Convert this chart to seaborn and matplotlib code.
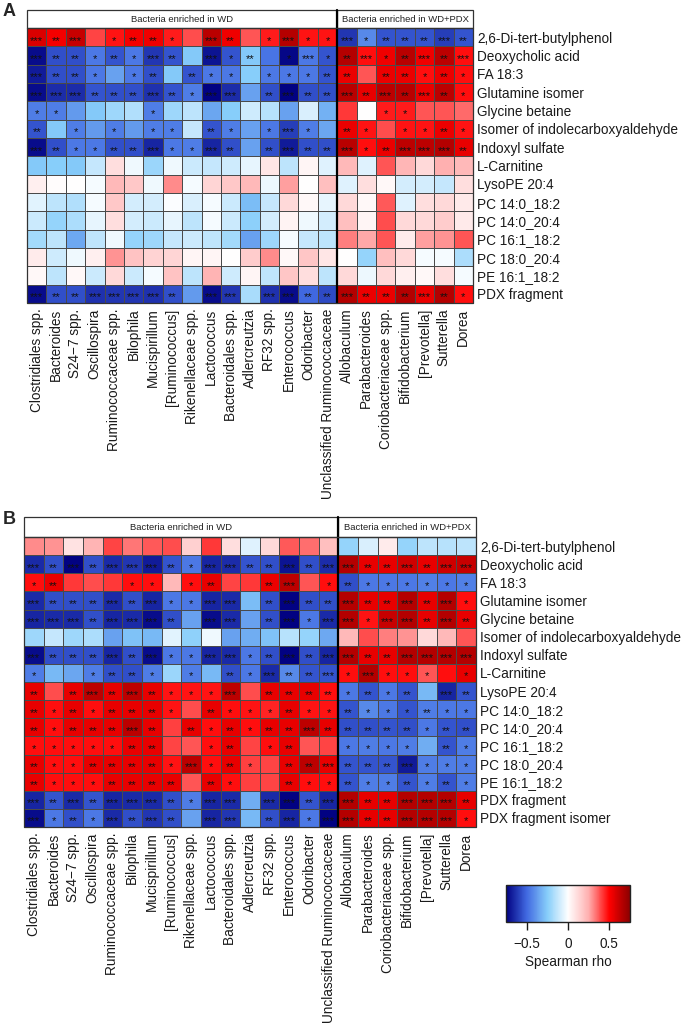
import numpy as np
import pandas as pd
import matplotlib
matplotlib.use("Agg")
import matplotlib.pyplot as plt
import seaborn as sns
from matplotlib.colors import LinearSegmentedColormap
from matplotlib.patches import Rectangle

# ---------------- data ----------------
bacteria = ["Clostridiales spp.", "Bacteroides", "S24\u22127 spp.", "Oscillospira",
            "Ruminococcaceae spp.", "Bilophila", "Mucispirillum", "[Ruminococcus]",
            "Rikenellaceae spp.", "Lactococcus", "Bacteroidales spp.", "Adlercreutzia",
            "RF32 spp.", "Enterococcus", "Odoribacter", "Unclassified Ruminococcaceae",
            "Allobaculum", "Parabacteroides", "Coriobacteriaceae spp.", "Bifidobacterium",
            "[Prevotella]", "Sutterella", "Dorea"]
n_wd = 16
group_labels = ["Bacteria enriched in WD", "Bacteria enriched in WD+PDX"]

metabolites_a = ["2,6-Di-tert-butylphenol", "Deoxycholic acid", "FA 18:3", "Glutamine isomer",
                 "Glycine betaine", "Isomer of indolecarboxyaldehyde", "Indoxyl sulfate",
                 "L-Carnitine", "LysoPE 20:4", "PC 14:0_18:2", "PC 14:0_20:4", "PC 16:1_18:2",
                 "PC 18:0_20:4", "PE 16:1_18:2", "PDX fragment"]
metabolites_b = metabolites_a + ["PDX fragment isomer"]

rho_a = [
    [0.58, 0.52, 0.62, 0.40, 0.47, 0.52, 0.53, 0.46, 0.39, 0.65, 0.53, 0.38, 0.46, 0.66, 0.47, 0.47, -0.62, -0.42, -0.55, -0.55, -0.55, -0.60, -0.55],
    [-0.72, -0.56, -0.56, -0.46, -0.55, -0.46, -0.62, -0.55, -0.26, -0.70, -0.55, -0.26, -0.47, -0.73, -0.46, -0.55, 0.66, 0.48, 0.53, 0.65, 0.53, 0.64, 0.48],
    [-0.68, -0.56, -0.56, -0.46, -0.36, -0.46, -0.56, -0.26, -0.55, -0.46, -0.46, -0.25, -0.46, -0.46, -0.46, -0.55, 0.54, 0.38, 0.54, 0.54, 0.48, 0.54, 0.48],
    [-0.72, -0.64, -0.64, -0.55, -0.56, -0.56, -0.63, -0.55, -0.45, -0.74, -0.64, -0.36, -0.56, -0.74, -0.56, -0.56, 0.65, 0.55, 0.64, 0.65, 0.54, 0.64, 0.48],
    [-0.45, -0.45, -0.38, -0.26, -0.20, -0.16, -0.45, -0.20, -0.14, -0.35, -0.25, -0.10, -0.15, -0.36, -0.08, -0.32, 0.42, 0.00, 0.46, 0.46, 0.38, 0.38, 0.35],
    [-0.55, -0.26, -0.45, -0.38, -0.45, -0.38, -0.45, -0.45, -0.12, -0.55, -0.45, -0.36, -0.46, -0.60, -0.45, -0.35, 0.54, 0.47, 0.39, 0.47, 0.47, 0.54, 0.47],
    [-0.72, -0.56, -0.46, -0.46, -0.56, -0.56, -0.66, -0.46, -0.45, -0.66, -0.56, -0.36, -0.56, -0.68, -0.56, -0.56, 0.65, 0.48, 0.54, 0.64, 0.64, 0.66, 0.55],
    [-0.26, -0.25, -0.26, -0.12, 0.10, -0.03, -0.21, -0.03, -0.11, -0.12, -0.10, -0.05, 0.08, -0.14, 0.03, -0.07, 0.22, -0.07, 0.38, 0.23, 0.12, 0.25, 0.22],
    [0.05, 0.01, 0.00, -0.02, 0.22, 0.17, -0.03, 0.30, -0.02, 0.13, 0.17, 0.22, -0.04, 0.27, 0.00, 0.20, -0.07, 0.10, 0.02, -0.09, -0.09, -0.12, 0.10],
    [-0.06, -0.14, -0.16, -0.02, 0.17, -0.09, -0.09, -0.01, -0.08, -0.02, -0.11, -0.29, -0.12, 0.12, 0.02, -0.05, 0.12, 0.02, 0.37, -0.07, 0.10, 0.12, 0.07],
    [-0.11, -0.22, -0.17, -0.05, 0.10, -0.09, -0.11, -0.05, -0.14, -0.02, -0.11, -0.24, -0.09, 0.04, -0.03, -0.09, 0.20, 0.03, 0.39, 0.12, 0.12, 0.16, 0.07],
    [-0.19, -0.14, -0.34, -0.13, -0.03, -0.22, -0.20, -0.12, -0.11, -0.13, -0.19, -0.36, -0.20, -0.02, -0.12, -0.14, 0.32, 0.26, 0.38, 0.06, 0.27, 0.29, 0.38],
    [0.06, -0.10, -0.03, 0.05, 0.29, 0.19, 0.14, 0.13, 0.03, 0.03, 0.00, 0.16, 0.30, 0.02, 0.18, 0.08, 0.00, -0.22, 0.20, 0.12, -0.02, -0.02, -0.17],
    [0.02, -0.14, 0.02, -0.11, 0.12, -0.11, -0.02, 0.19, -0.14, 0.24, -0.10, 0.03, -0.13, 0.18, 0.10, -0.14, 0.12, -0.04, 0.12, 0.05, 0.02, 0.10, -0.02],
    [-0.72, -0.56, -0.56, -0.63, -0.62, -0.62, -0.63, -0.56, -0.38, -0.72, -0.62, -0.18, -0.63, -0.72, -0.50, -0.57, 0.66, 0.54, 0.54, 0.66, 0.54, 0.66, 0.48],
]
stars_a = [
    "32301221032013113122232",
    "32212132031201312312323",
    "32210120211011122022121",
    "33322232133023223232321",
    "11000010000000000011000",
    "20101011021013102101121",
    "32112231132023223123332",
    "00000000000000000000000",
    "00000000000000000000000",
    "00000000000000000000000",
    "00000000000000000000000",
    "00000000000000000000000",
    "00000000000000000000000",
    "00000000000000000000000",
    "32233332033033223222321",
]

rho_b = [
    [0.30, 0.29, 0.09, 0.24, 0.40, 0.33, 0.37, 0.39, 0.15, 0.42, 0.10, -0.07, 0.12, 0.37, 0.34, 0.20, -0.22, -0.08, 0.06, -0.22, -0.14, -0.15, -0.14],
    [-0.65, -0.56, -0.74, -0.56, -0.65, -0.62, -0.68, -0.55, -0.46, -0.66, -0.64, -0.55, -0.56, -0.70, -0.56, -0.64, 0.66, 0.55, 0.55, 0.60, 0.55, 0.60, 0.62],
    [0.48, 0.54, 0.42, 0.39, 0.42, 0.48, 0.48, 0.22, 0.48, 0.55, 0.40, 0.42, 0.54, 0.64, 0.38, 0.48, -0.56, -0.46, -0.46, -0.46, -0.44, -0.46, -0.44],
    [-0.65, -0.56, -0.56, -0.56, -0.65, -0.56, -0.66, -0.46, -0.46, -0.66, -0.65, -0.29, -0.56, -0.74, -0.56, -0.56, 0.66, 0.55, 0.55, 0.66, 0.55, 0.66, 0.48],
    [-0.66, -0.65, -0.65, -0.56, -0.66, -0.65, -0.72, -0.56, -0.36, -0.72, -0.65, -0.36, -0.56, -0.74, -0.46, -0.65, 0.66, 0.47, 0.62, 0.66, 0.55, 0.66, 0.55],
    [-0.20, -0.12, -0.20, -0.17, -0.36, -0.28, -0.30, -0.06, -0.23, -0.03, -0.36, -0.33, -0.28, -0.15, -0.22, -0.34, 0.22, 0.39, 0.32, 0.29, 0.12, 0.22, 0.38],
    [-0.72, -0.56, -0.56, -0.56, -0.66, -0.56, -0.72, -0.46, -0.46, -0.66, -0.65, -0.46, -0.56, -0.74, -0.56, -0.66, 0.66, 0.55, 0.55, 0.66, 0.66, 0.66, 0.66],
    [-0.45, -0.30, -0.35, -0.45, -0.56, -0.56, -0.45, -0.21, -0.45, -0.30, -0.56, -0.46, -0.65, -0.42, -0.55, -0.55, 0.48, 0.66, 0.48, 0.48, 0.38, 0.48, 0.55],
    [0.55, 0.39, 0.55, 0.64, 0.55, 0.64, 0.55, 0.47, 0.47, 0.47, 0.64, 0.39, 0.55, 0.55, 0.55, 0.48, -0.46, -0.55, -0.46, -0.55, -0.30, -0.66, -0.55],
    [0.55, 0.48, 0.55, 0.48, 0.55, 0.55, 0.55, 0.47, 0.39, 0.55, 0.48, 0.47, 0.45, 0.55, 0.47, 0.47, -0.55, -0.42, -0.46, -0.55, -0.45, -0.46, -0.46],
    [0.55, 0.48, 0.55, 0.55, 0.55, 0.64, 0.55, 0.41, 0.55, 0.48, 0.55, 0.48, 0.55, 0.55, 0.64, 0.55, -0.56, -0.56, -0.55, -0.56, -0.46, -0.55, -0.56],
    [0.48, 0.48, 0.48, 0.48, 0.48, 0.55, 0.55, 0.40, 0.38, 0.48, 0.55, 0.40, 0.48, 0.55, 0.38, 0.40, -0.46, -0.45, -0.46, -0.45, -0.33, -0.55, -0.45],
    [0.55, 0.48, 0.48, 0.55, 0.55, 0.55, 0.55, 0.47, 0.64, 0.48, 0.55, 0.41, 0.40, 0.55, 0.64, 0.55, -0.55, -0.55, -0.55, -0.68, -0.45, -0.45, -0.45],
    [0.55, 0.48, 0.48, 0.48, 0.55, 0.55, 0.55, 0.55, 0.38, 0.55, 0.48, 0.41, 0.40, 0.55, 0.48, 0.48, -0.55, -0.45, -0.45, -0.55, -0.45, -0.55, -0.45],
    [-0.66, -0.55, -0.65, -0.55, -0.66, -0.65, -0.65, -0.56, -0.45, -0.66, -0.65, -0.33, -0.65, -0.74, -0.55, -0.66, 0.66, 0.55, 0.55, 0.66, 0.66, 0.66, 0.55],
    [-0.72, -0.46, -0.56, -0.46, -0.65, -0.56, -0.62, -0.56, -0.36, -0.66, -0.62, -0.30, -0.56, -0.66, -0.46, -0.74, 0.66, 0.55, 0.55, 0.66, 0.66, 0.66, 0.48],
]
stars_b = [
    "00000000000000000000000",
    "32323332133223233223233",
    "12000110120023012111111",
    "32223231133023223223231",
    "33323332033023133133232",
    "00000000000000000000000",
    "32223231133123233223333",
    "10012210102132231311101",
    "20232321113022221212032",
    "21212221021112112111211",
    "21222320212122322222122",
    "11111220012012001111021",
    "21122221312102232223111",
    "21112222021002112112121",
    "32323332133033233223332",
    "31213232033023133223331",
]

cbar_ticks = [-0.5, 0, 0.5]
cbar_ticklabels = ["\u22120.5", "0", "0.5"]
vmin, vmax = -0.75, 0.75

# ---------------- style ----------------
sns.set_style("white")
plt.rcParams["font.family"] = ["Liberation Sans", "DejaVu Sans"]
cmap = LinearSegmentedColormap.from_list(
    "rho", [(0, "#000080"), (1/6, "#4169e1"), (1/3, "#87cefa"), (0.5, "#ffffff"),
            (2/3, "#ffb0b0"), (5/6, "#ff0000"), (1, "#8b0000")])

W, H = 685, 1024
fig = plt.figure(figsize=(W/100, H/100), dpi=100)

def frac(x0, y0, x1, y1):
    return [x0 / W, 1 - y1 / H, (x1 - x0) / W, (y1 - y0) / H]

def panel(rect, rows, vals, stars, hdr, letter, letter_xy):
    ax = fig.add_axes(frac(*rect))
    df = pd.DataFrame(vals, index=rows, columns=bacteria)
    ann = np.array([["*" * int(c) for c in s] for s in stars])
    sns.heatmap(df, ax=ax, cmap=cmap, vmin=vmin, vmax=vmax, cbar=False,
                annot=ann, fmt="", annot_kws={"fontsize": 8, "color": "#111111"},
                linewidths=0.6, linecolor="#4a4a4a", square=False)
    for t in ax.texts:
        x, y = t.get_position()
        t.set_position((x, y + 0.2))
    n = len(rows)
    ax.yaxis.tick_right()
    ax.set_yticks(np.arange(n) + 0.5)
    ax.set_yticklabels(rows, rotation=0, fontsize=9.8, color="#1a1a1a")
    ax.set_xticks(np.arange(len(bacteria)) + 0.5)
    ax.set_xticklabels(bacteria, rotation=90, fontsize=9.8, color="#1a1a1a")
    ax.tick_params(axis="both", length=0)
    ax.tick_params(axis="y", pad=3)
    ax.tick_params(axis="x", pad=4)
    ax.set_xlabel("")
    ax.set_ylabel("")
    # header boxes
    ncol = len(bacteria)
    ax.add_patch(Rectangle((0, -hdr), n_wd, hdr, facecolor="white", edgecolor="#333333",
                           lw=0.9, clip_on=False))
    ax.add_patch(Rectangle((n_wd, -hdr), ncol - n_wd, hdr, facecolor="white",
                           edgecolor="#333333", lw=0.9, clip_on=False))
    ax.text(n_wd / 2, -hdr / 2 + 0.05, group_labels[0], ha="center", va="center",
            fontsize=6.8, color="#222222")
    ax.text(n_wd + (ncol - n_wd) / 2, -hdr / 2 + 0.05, group_labels[1], ha="center",
            va="center", fontsize=6.8, color="#222222")
    ax.plot([n_wd, n_wd], [-hdr, n], color="black", lw=1.6, clip_on=False)
    ax.plot([0, ncol, ncol, 0, 0], [0, 0, n, n, 0], color="#333333", lw=0.9, clip_on=False)
    fig.text(letter_xy[0] / W, 1 - letter_xy[1] / H, letter, fontsize=13,
             fontweight="bold", ha="left", va="top")
    return ax

axA = panel((27, 28, 473, 303), metabolites_a, rho_a, stars_a, 0.98, "A", (3, 3))
axB = panel((24, 537, 476, 827), metabolites_b, rho_b, stars_b, 1.1, "B", (3, 511))

cax = fig.add_axes(frac(506, 885, 630, 922))
cb = fig.colorbar(axB.collections[0], cax=cax, orientation="horizontal")
cb.set_ticks(cbar_ticks)
cb.set_ticklabels(cbar_ticklabels)
cb.ax.tick_params(length=6, width=1, pad=5, labelsize=9.8, colors="#1a1a1a")
cb.outline.set_linewidth(1)
cb.outline.set_edgecolor("#222222")
cb.set_label("Spearman rho", fontsize=9.8, labelpad=3, color="#1a1a1a")

fig.savefig("out.png", dpi=100)
